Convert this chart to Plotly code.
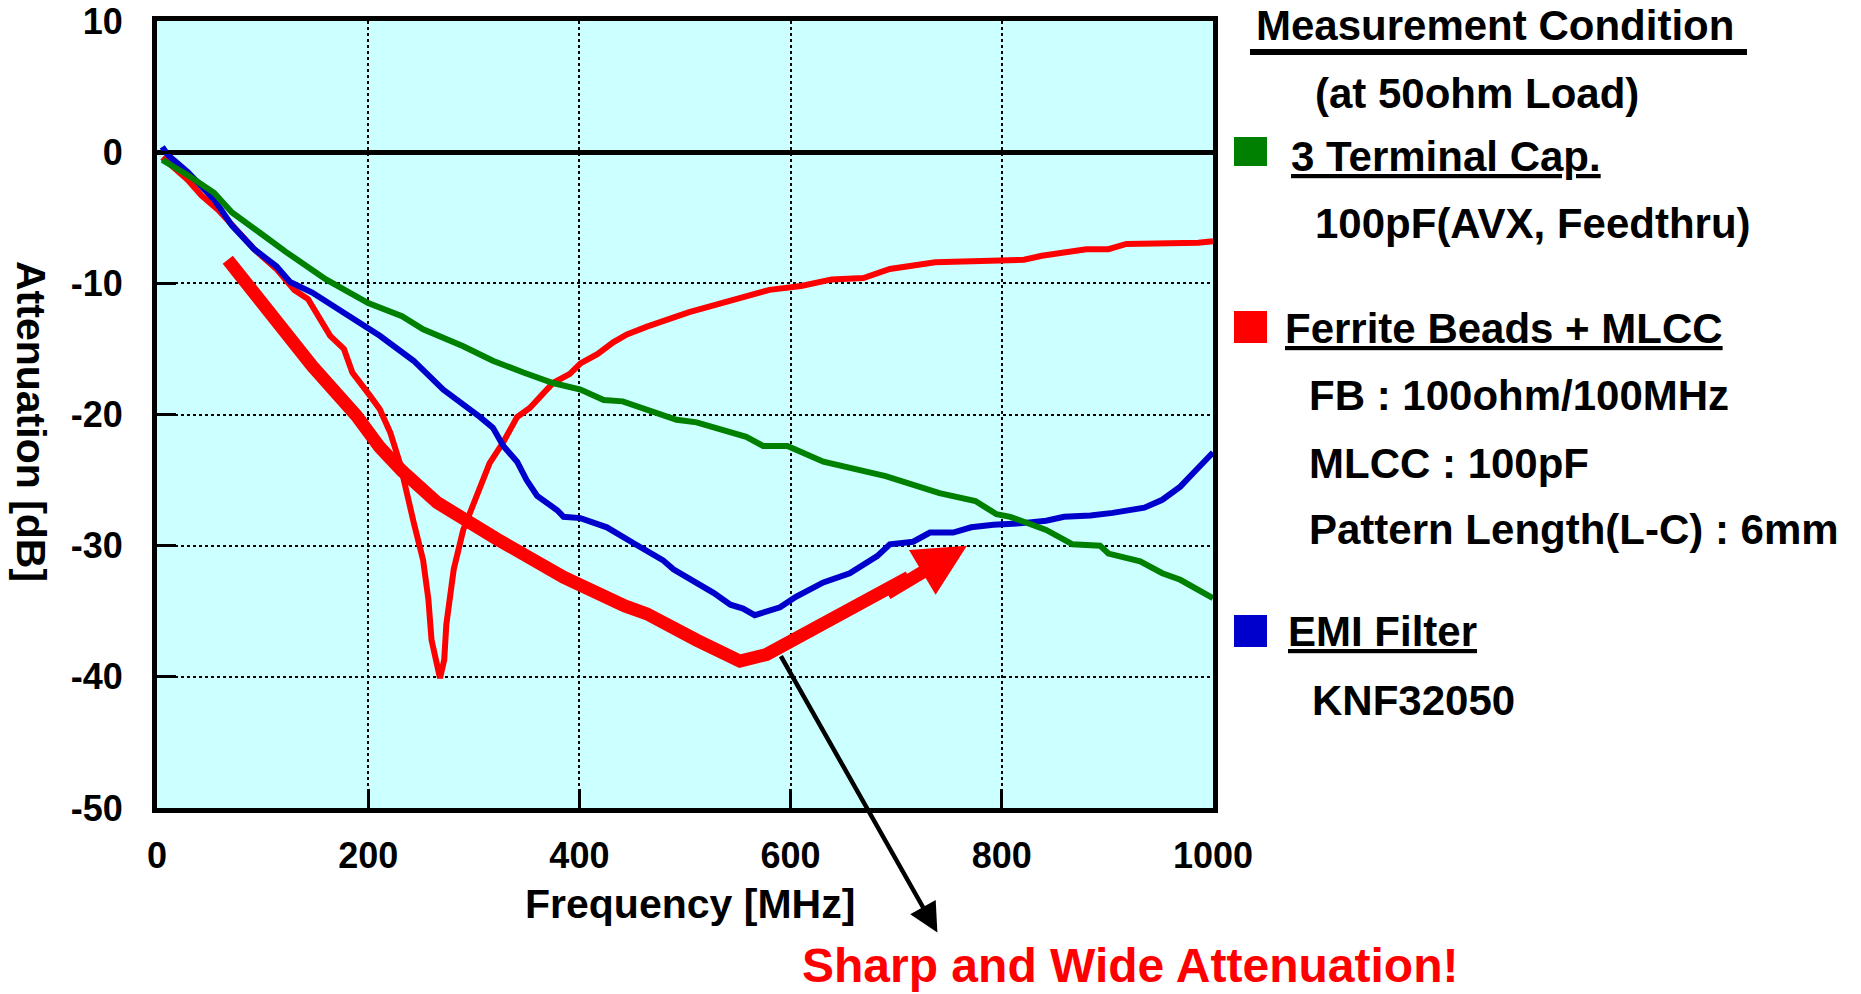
import plotly.graph_objects as go

# ---------------- data ----------------
freq_ticks = [0, 200, 400, 600, 800, 1000]
db_ticks = [10, 0, -10, -20, -30, -40, -50]
db_tick_labels = ["10", "0", "-10", "-20", "-30", "-40", "-50"]

green_x = [5, 30, 54, 71, 100, 122, 160, 200, 232, 252, 290, 318, 347, 375, 401, 423, 441,
           492, 511, 558, 574, 597, 631, 690, 741, 775, 795, 808, 842, 867, 893, 901, 931,
           952, 969, 986, 1000]
green_y = [-0.6, -1.8, -3.1, -4.6, -6.3, -7.6, -9.7, -11.5, -12.5, -13.5, -14.8, -15.9, -16.8,
           -17.6, -18.1, -18.9, -19.0, -20.4, -20.6, -21.7, -22.4, -22.4, -23.6, -24.7, -26.0,
           -26.6, -27.6, -27.8, -28.8, -29.9, -30.0, -30.6, -31.2, -32.1, -32.6, -33.4, -34.0]

blue_x = [5, 10, 29, 54, 71, 92, 113, 126, 147, 173, 202, 211, 243, 271, 306, 318, 328, 341,
          350, 360, 379, 385, 401, 426, 451, 479, 489, 511, 527, 543, 555, 566, 590, 605, 631,
          656, 682, 694, 716, 732, 754, 771, 792, 817, 842, 859, 884, 905, 935, 952, 969, 982,
          1000]
blue_y = [0.4, -0.2, -1.5, -3.6, -5.6, -7.4, -8.7, -9.9, -10.7, -12.0, -13.5, -14.0, -15.9,
          -18.1, -20.2, -21.0, -22.4, -23.6, -25.0, -26.2, -27.3, -27.8, -27.9, -28.6, -29.8,
          -31.1, -31.8, -32.8, -33.6, -34.5, -34.8, -35.3, -34.7, -33.9, -32.8, -32.1, -30.8,
          -29.9, -29.7, -29.0, -29.0, -28.6, -28.4, -28.3, -28.1, -27.8, -27.7, -27.5, -27.1,
          -26.5, -25.5, -24.4, -22.9]

red_x = [5, 29, 42, 58, 75, 92, 113, 130, 143, 151, 164, 177, 185, 202, 211, 221, 230, 243,
         252, 257, 260, 268, 272, 274, 281, 290, 306, 315, 328, 337, 341, 353, 363, 375, 391,
         401, 417, 432, 445, 464, 504, 546, 580, 610, 639, 669, 694, 737, 800, 821, 838, 880,
         901, 918, 986, 1000]
red_y = [-0.4, -2.1, -3.3, -4.4, -5.9, -7.4, -8.9, -10.5, -11.2, -12.2, -14.0, -15.0, -16.8,
         -18.6, -19.6, -21.4, -23.7, -28.2, -31.1, -34.1, -37.2, -40.1, -38.7, -36.0, -31.8,
         -28.8, -25.5, -23.7, -22.1, -20.9, -20.2, -19.5, -18.6, -17.6, -16.9, -16.1, -15.4,
         -14.5, -13.9, -13.3, -12.2, -11.2, -10.5, -10.2, -9.7, -9.6, -8.9, -8.4, -8.2, -8.2,
         -7.9, -7.4, -7.4, -7.0, -6.9, -6.8]

# hand-drawn "wide attenuation" trend arrow
trend_x = [67, 105, 147, 189, 211, 232, 265, 322, 385, 443, 464, 511, 552, 577, 599, 652, 712]
trend_y = [-8.2, -12.0, -16.3, -20.1, -22.5, -24.3, -26.7, -29.5, -32.4, -34.6, -35.2, -37.2,
           -38.8, -38.3, -37.3, -35.0, -32.4]
trend_tip = (767, -30.0)
trend_tail = (690, -33.7)

# black pointer arrow (tail on trend minimum, tip below axis)
pointer_tail = (590, -38.3)
pointer_tip = (739, -59.5)

legend_items = [
    ("3 Terminal Cap.", ["100pF(AVX, Feedthru)"], "#008000"),
    ("Ferrite Beads + MLCC", ["FB : 100ohm/100MHz", "MLCC : 100pF", "Pattern Length(L-C) : 6mm"], "#FF0000"),
    ("EMI Filter", ["KNF32050"], "#0000CC"),
]

# ---------------- geometry helpers (pixel -> paper) ----------------
W, H = 1861, 994
L, R, T, B = 157, 1213, 21, 808
def PX(px):
    return (px - L) / (R - L)
def PY(py):
    return (B - py) / (B - T)

FONT = "Liberation Sans, Arial, Helvetica, sans-serif"

fig = go.Figure()
fig.add_trace(go.Scatter(x=red_x, y=red_y, mode="lines",
                         line=dict(color="#FF0000", width=6), hoverinfo="skip"))
fig.add_trace(go.Scatter(x=trend_x, y=trend_y, mode="lines",
                         line=dict(color="#FF0000", width=13), hoverinfo="skip"))
fig.add_trace(go.Scatter(x=blue_x, y=blue_y, mode="lines",
                         line=dict(color="#0000CC", width=6), hoverinfo="skip"))
fig.add_trace(go.Scatter(x=green_x, y=green_y, mode="lines",
                         line=dict(color="#008000", width=6), hoverinfo="skip"))

annotations = []
# trend arrow head
annotations.append(dict(x=trend_tip[0], y=trend_tip[1], ax=trend_tail[0], ay=trend_tail[1],
                        xref="x", yref="y", axref="x", ayref="y", text="", showarrow=True,
                        arrowhead=2, arrowsize=0.8, arrowwidth=13, arrowcolor="#FF0000"))
# pointer arrow
annotations.append(dict(x=pointer_tip[0], y=pointer_tip[1], ax=pointer_tail[0], ay=pointer_tail[1],
                        xref="x", yref="y", axref="x", ayref="y", text="", showarrow=True,
                        arrowhead=2, arrowsize=1.3, arrowwidth=4.5, arrowcolor="#000000"))

# callout text
annotations.append(dict(x=PX(1130), y=PY(966), xref="paper", yref="paper",
                        text="Sharp and Wide Attenuation!", showarrow=False,
                        xanchor="center", yanchor="middle",
                        font=dict(family=FONT, size=48, color="#FF0000", weight="bold")))

# axis titles
annotations.append(dict(x=PX(690), y=PY(904), xref="paper", yref="paper",
                        text="Frequency [MHz]", showarrow=False,
                        xanchor="center", yanchor="middle",
                        font=dict(family=FONT, size=41, color="#000000", weight="bold")))
annotations.append(dict(x=PX(31), y=PY(421), xref="paper", yref="paper",
                        text="Attenuation [dB]", showarrow=False, textangle=90,
                        xanchor="center", yanchor="middle",
                        font=dict(family=FONT, size=41, color="#000000", weight="bold")))

# right-hand panel
LF = 42
def txt(s, left, cy, underline=False):
    f = dict(family=FONT, size=LF, color="#000000", weight="bold")
    if underline:
        f["lineposition"] = "under"
    annotations.append(dict(x=PX(left), y=PY(cy), xref="paper", yref="paper", text=s,
                            showarrow=False, xanchor="left", yanchor="middle", font=f))

txt("Measurement Condition", 1254, 25)
txt("(at 50ohm Load)", 1313, 93)

shapes = []
shapes.append(dict(type="line", xref="paper", yref="paper", x0=PX(1250), x1=PX(1747),
                   y0=PY(52), y1=PY(52), line=dict(color="#000000", width=6)))

head_rows = [(156, 137, 166, 1289), (328, 311, 343, 1283), (631, 615, 647, 1286)]
sub_rows = [[(1313, 224)], [(1307, 395), (1307, 463), (1307, 529)], [(1310, 700)]]
for (name, subs, color), (cy, sy0, sy1, tl), srows in zip(legend_items, head_rows, sub_rows):
    shapes.append(dict(type="rect", xref="paper", yref="paper", x0=PX(1234), x1=PX(1267),
                       y0=PY(sy1), y1=PY(sy0), fillcolor=color, line=dict(width=0)))
    txt(name, tl, cy, underline=True)
    for s, (sl, scy) in zip(subs, srows):
        txt(s, sl, scy)

axis_common = dict(showline=True, linewidth=5, linecolor="#000000", mirror=True,
                   ticks="inside", tickwidth=3, tickcolor="#000000", ticklen=19,
                   showgrid=True, gridcolor="#000000", gridwidth=1.5, griddash="dot",
                   tickfont=dict(family=FONT, size=36, color="#000000", weight="bold"),
                   automargin=False)

fig.update_layout(
    width=W, height=H,
    margin=dict(l=L, r=W - R, t=T, b=H - B, pad=0, autoexpand=False),
    paper_bgcolor="#FFFFFF",
    plot_bgcolor="#CCFFFF",
    showlegend=False,
    hovermode=False,
    xaxis=dict(range=[0, 1000], tickvals=freq_ticks, zeroline=False,
               ticklabelstandoff=12, **axis_common),
    yaxis=dict(range=[-50, 10], tickvals=db_ticks, ticktext=db_tick_labels, zeroline=True,
               zerolinecolor="#000000", zerolinewidth=5, ticklabelstandoff=22, **axis_common),
    annotations=annotations,
    shapes=shapes,
)

fig.write_html("out.html", config={"displayModeBar": False},
               post_script="document.body.style.margin='0px';document.body.style.overflow='hidden';")
